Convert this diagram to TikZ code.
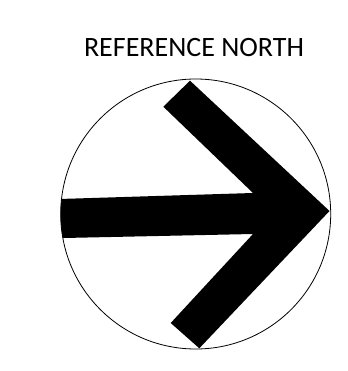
\documentclass[tikz,border=0pt]{standalone}
\usepackage{fontspec}
\setmainfont{Carlito}
\tikzset{
  ring/.style={draw=black, line width=0.8pt},
  arrowshape/.style={fill=black, draw=none},
  title/.style={font=\fontsize{28}{30}\selectfont, inner sep=0pt, anchor=base}
}
\begin{document}
\begin{tikzpicture}[x=1pt,y=-1pt]
\useasboundingbox (0,0) rectangle (347,371);
\node[title] (t) at (194,56.7) {REFERENCE NORTH};
\coordinate (c) at (195.7,214);
\begin{scope}
  \clip (c) circle[radius=135];
  \fill[arrowshape] (40,199.6) -- (253,193) -- (163.3,106.7) -- (190,80.7) -- (329.5,211)
    -- (199.3,348.3) -- (170.7,323) -- (253,234) -- (40,238.5) -- cycle;
\end{scope}
\draw[ring] (c) circle[radius=135];
\end{tikzpicture}
\end{document}
